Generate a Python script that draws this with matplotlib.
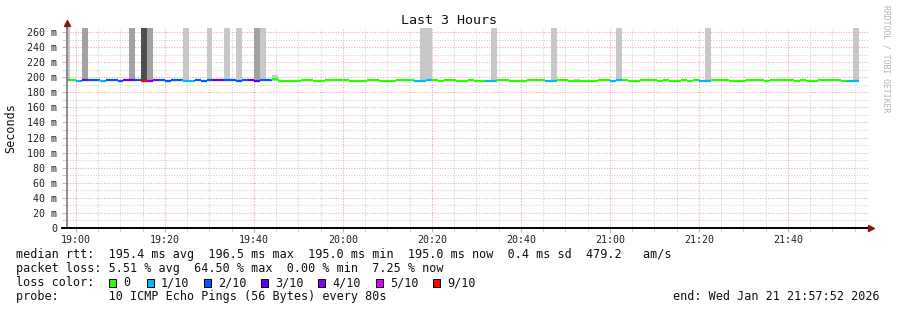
import numpy as np
import matplotlib
matplotlib.use("Agg")
import matplotlib.pyplot as plt
from matplotlib.patches import Rectangle
from matplotlib.ticker import MultipleLocator, FixedLocator

W, H = 897, 310
MONO = "DejaVu Sans Mono"

# ── data ─────────────────────────────────────────────────
# one value per 80 s step, step 0 starts 18:57:20 (minutes relative to 19:00)
STEP_MIN = 80 / 60
FIRST_STEP = -8 / 3

median_ms = [
    196.3, 196.3, 195.0, 196.3, 196.3, 196.3, 195.0, 196.3, 196.3, 195.0,
    196.3, 196.3, 196.3, 195.0, 195.0, 196.3, 196.3, 195.0, 196.3, 196.3,
    195.0, 195.0, 196.3, 195.0, 196.3, 196.3, 196.3, 196.3, 196.3, 195.0,
    196.3, 196.3, 195.0, 196.3, 196.3, 197.0, 195.0, 195.0, 195.0, 195.0,
    196.3, 196.3, 195.0, 195.0, 196.3, 196.3, 196.3, 196.3, 195.0, 195.0,
    195.0, 196.3, 196.3, 195.0, 195.0, 195.0, 196.3, 196.3, 196.3, 195.0,
    195.0, 196.3, 196.3, 195.0, 196.3, 196.3, 195.0, 195.0, 196.3, 195.0,
    195.0, 195.0, 195.0, 196.3, 196.3, 195.0, 195.0, 195.0, 196.3, 196.3,
    196.3, 195.0, 195.0, 196.3, 196.3, 195.0, 195.0, 195.0, 195.0, 195.0,
    196.3, 196.3, 195.0, 196.3, 196.3, 195.0, 195.0, 196.3, 196.3, 196.3,
    195.0, 196.3, 195.0, 195.0, 196.3, 195.0, 196.3, 195.0, 195.5, 196.3,
    196.3, 196.3, 195.0, 195.0, 195.0, 196.3, 196.3, 196.3, 195.0, 196.3,
    196.3, 196.3, 196.3, 195.0, 196.3, 195.0, 195.0, 196.3, 196.3, 196.3,
    196.3, 195.0, 195.0, 195.0, np.nan, np.nan,
]

# lost pings (of 10) per step
loss = [
    1, 0, 1, 3, 2, 2, 1, 2, 2, 2,
    3, 3, 2, 9, 4, 4, 2, 2, 2, 2,
    1, 1, 2, 2, 2, 3, 3, 2, 2, 2,
    2, 3, 3, 2, 2, 0, 0, 0, 0, 0,
    0, 0, 0, 0, 0, 0, 0, 0, 0, 0,
    0, 0, 0, 0, 0, 0, 0, 0, 0, 1,
    1, 1, 0, 0, 0, 0, 0, 0, 0, 0,
    0, 1, 1, 0, 0, 0, 0, 0, 0, 0,
    0, 1, 1, 0, 0, 0, 0, 0, 0, 0,
    0, 0, 1, 1, 0, 0, 0, 0, 0, 0,
    0, 0, 0, 0, 0, 0, 0, 1, 1, 0,
    0, 0, 0, 0, 0, 0, 0, 0, 0, 0,
    0, 0, 0, 0, 0, 0, 0, 0, 0, 0,
    0, 0, 1, 1, 0, 0,
]

# smoke: (step index, top in ms, shade)
smoke_steps = [0, 3, 11, 13, 14, 20, 24, 27, 29, 32, 33, 35,
               60, 61, 72, 82, 86, 93, 108, 133]
smoke_top = [300, 300, 300, 300, 300, 300, 300, 300, 300, 300, 300, 203,
             300, 300, 300, 300, 198, 300, 300, 300]
smoke_shade = ["light", "mid", "mid", "dark", "mid", "light", "light", "light",
               "light", "mid", "light", "light",
               "light", "light", "light", "light", "light", "light", "light", "light"]
SMOKE_BOTTOM = 194.5

loss_thresholds = [0, 1, 2, 3, 4, 5, 9]
loss_labels = ["0", "1/10", "2/10", "3/10", "4/10", "5/10", "9/10"]
loss_colors = ["#26ff00", "#00b8ff", "#0059ff", "#5e00ff", "#7e00ff", "#dd00ff", "#ff0000"]
shade_colors = {"light": "#c8c8c8", "mid": "#a2a2a2", "dark": "#4e4e4e"}

x_ticks = [0, 20, 40, 60, 80, 100, 120, 140, 160]
x_labels = ["19:00", "19:20", "19:40", "20:00", "20:20", "20:40", "21:00", "21:20", "21:40"]
y_ticks = list(range(0, 261, 20))
y_labels = ["0"] + [f"{v} m" for v in y_ticks[1:]]

legend_rows = [
    "median rtt:  195.4 ms avg  196.5 ms max  195.0 ms min  195.0 ms now  0.4 ms sd  479.2   am/s",
    "packet loss: 5.51 % avg  64.50 % max  0.00 % min  7.25 % now",
    "loss color:",
    "probe:       10 ICMP Echo Pings (56 Bytes) every 80s",
]
end_text = "end: Wed Jan 21 21:57:52 2026"

# ── layout (pixels) ──────────────────────────────────────
AX_L, AX_R, AX_TOP, AX_BOT = 66.5, 867.5, 28, 228
ROW_Y = [254.5, 268.5, 282.5, 296.5]
BOX_X = [109, 146.5, 203.5, 261, 318, 375.5, 433]

def fx(px):
    return px / W

def fy(py):
    return 1 - py / H

fig = plt.figure(figsize=(W / 100, H / 100), dpi=100)
fig.patch.set_facecolor("white")
ax = fig.add_axes([fx(AX_L), fy(AX_BOT), (AX_R - AX_L) / W, (AX_BOT - AX_TOP) / H])
ax.set_facecolor("white")

x0, x1 = -2 - 8 / 60, 178 - 8 / 60
ax.set_xlim(x0, x1)
ax.set_ylim(0, 200 / (196 / 260))

# grid
ax.xaxis.set_major_locator(FixedLocator(x_ticks))
ax.xaxis.set_minor_locator(MultipleLocator(5))
ax.yaxis.set_major_locator(FixedLocator(y_ticks))
ax.yaxis.set_minor_locator(MultipleLocator(10))
ax.grid(which="minor", color="#d2d2d2", linestyle=(0, (1, 1.5)), linewidth=0.75)
ax.grid(which="major", color="#f2a4a4", linestyle=(0, (1, 1.5)), linewidth=0.75)
ax.set_axisbelow(True)

# smoke
n = len(median_ms)
starts = FIRST_STEP + np.arange(n) * STEP_MIN
for idx, top, shade in zip(smoke_steps, smoke_top, smoke_shade):
    ax.bar(starts[idx], top - SMOKE_BOTTOM, width=STEP_MIN, bottom=SMOKE_BOTTOM,
           align="edge", color=shade_colors[shade], linewidth=0, zorder=2)

# median line coloured by loss
def loss_color(l):
    c = loss_colors[0]
    for t, col in zip(loss_thresholds, loss_colors):
        if l >= t:
            c = col
    return c

med = np.array(median_ms, dtype=float)
cols = [loss_color(l) for l in loss]
ax.hlines(med, starts, starts + STEP_MIN, colors=cols, linewidth=1.6, zorder=3)
for i in range(1, n):
    if np.isfinite(med[i]) and np.isfinite(med[i - 1]) and med[i] != med[i - 1]:
        ax.vlines(starts[i], min(med[i], med[i - 1]), max(med[i], med[i - 1]),
                  colors=cols[i], linewidth=1.6, zorder=3)

# ticks
ax.set_xticklabels(x_labels)
ax.set_yticklabels(y_labels)
ax.tick_params(axis="both", which="both", labelsize=7.2, direction="out")
ax.tick_params(axis="x", which="major", length=3, width=0.75, color="#f2a4a4", pad=2)
ax.tick_params(axis="x", which="minor", length=3, width=0.75, color="#d2d2d2")
ax.tick_params(axis="y", which="major", length=3.5, width=0.75, color="#f2a4a4", pad=3)
ax.tick_params(axis="y", which="minor", length=3.5, width=0.75, color="#d2d2d2")
for lab in ax.get_xticklabels() + ax.get_yticklabels():
    lab.set_family(MONO)
    lab.set_color("#222222")

for s in ["top", "right"]:
    ax.spines[s].set_visible(False)
ax.spines["left"].set_color("#7a7a7a")
ax.spines["left"].set_linewidth(1.2)
ax.spines["bottom"].set_color("black")
ax.spines["bottom"].set_linewidth(1.4)
ax.spines["left"].set_zorder(4)
ax.spines["bottom"].set_zorder(4)

# axis extensions + arrows
fig.add_artist(plt.Line2D([fx(AX_L), fx(AX_L)], [fy(AX_TOP), fy(23)],
                          color="#7a7a7a", linewidth=1.2))
fig.add_artist(plt.Line2D([fx(62), fx(AX_L)], [fy(AX_BOT), fy(AX_BOT)],
                          color="black", linewidth=1.4))
fig.add_artist(plt.Line2D([fx(AX_R), fx(869)], [fy(AX_BOT), fy(AX_BOT)],
                          color="black", linewidth=1.4))
fig.add_artist(plt.Line2D([fx(AX_L)], [fy(22.5)], marker="^", markersize=4.5,
                          color="#8b1010", linestyle="none"))
fig.add_artist(plt.Line2D([fx(871)], [fy(AX_BOT)], marker=">", markersize=4.5,
                          color="#8b1010", linestyle="none"))

# texts
fig.text(0.5, fy(20), "Last 3 Hours", family=MONO, fontsize=9.6,
         ha="center", va="center", color="#111111")
fig.text(fx(11), fy(AX_TOP + (AX_BOT - AX_TOP) / 2), "Seconds", family=MONO, fontsize=8.5,
         rotation=90, ha="center", va="center", color="#111111")
fig.text(fx(886), fy(5), "RRDTOOL / TOBI OETIKER", family=MONO, fontsize=5.9,
         rotation=270, ha="center", va="top", color="#b4b4b4")

for row, y in zip(legend_rows, ROW_Y):
    fig.text(fx(16), fy(y), row, family=MONO, fontsize=8.5, ha="left", va="center",
             color="#111111")
for bx, col, lab in zip(BOX_X, loss_colors, loss_labels):
    fig.add_artist(Rectangle((fx(bx), fy(ROW_Y[2] + 4)), 7 / W, 8 / H,
                             transform=fig.transFigure, facecolor=col,
                             edgecolor="black", linewidth=0.7))
    fig.text(fx(bx + 14.5), fy(ROW_Y[2]), lab, family=MONO, fontsize=8.5,
             ha="left", va="center", color="#111111")
fig.text(fx(880), fy(ROW_Y[3]), end_text, family=MONO, fontsize=8.5,
         ha="right", va="center", color="#111111")

fig.savefig("out.png", dpi=100, facecolor="white")
